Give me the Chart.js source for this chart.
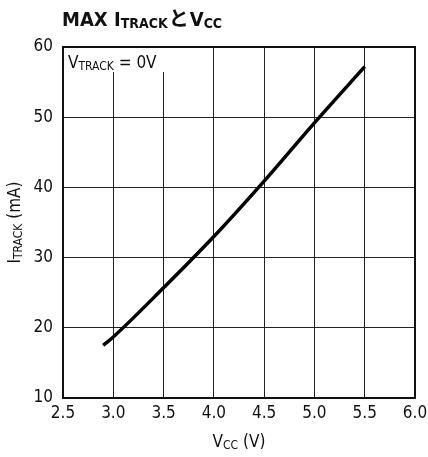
<!DOCTYPE html>
<html>
<head>
<meta charset="utf-8">
<script src="https://cdn.jsdelivr.net/npm/chart.js@4"></script>
<style>
  html, body { margin: 0; padding: 0; background: #fff; }
  #wrap { width: 428px; height: 457px; position: relative; }
</style>
</head>
<body>
<div id="wrap"><canvas id="trackChart"></canvas></div>
<script>
// supply voltage (V) and max track current (mA)
var vcc = [2.9, 3.0, 3.5, 4.0, 4.5, 5.0, 5.5];
var itrack = [17.5, 18.7, 25.7, 33.0, 40.9, 49.2, 57.2];
var xTicks = [2.5, 3.0, 3.5, 4.0, 4.5, 5.0, 5.5, 6.0];
var yTicks = [10, 20, 30, 40, 50, 60];

var FONT = '"Liberation Sans Narrow", "DejaVu Sans Condensed", "Liberation Sans", sans-serif';
var JP = '"Noto Sans CJK JP"';

// draw text runs with optional subscripts, returns end x
function richText(ctx, parts, x, y, size, weight) {
  var cx = x;
  parts.forEach(function(p) {
    var fs = p.sub ? Math.round(size * 0.72) : size;
    var fam = p.jp ? JP : FONT;
    ctx.font = (weight || '') + ' ' + fs + 'px ' + fam;
    ctx.fillText(p.t, cx, y + (p.sub ? size * 0.12 : 0));
    cx += ctx.measureText(p.t).width + (p.gap || 0);
  });
  return cx;
}
function richWidth(ctx, parts, size, weight) {
  var w = 0;
  parts.forEach(function(p) {
    var fs = p.sub ? Math.round(size * 0.72) : size;
    ctx.font = (weight || '') + ' ' + fs + 'px ' + (p.jp ? JP : FONT);
    w += ctx.measureText(p.t).width + (p.gap || 0);
  });
  return w;
}

var decor = {
  id: 'decor',
  beforeDatasetsDraw: function(chart) {
    var ctx = chart.ctx, a = chart.chartArea;
    ctx.save();
    // condition label box sits over the grid
    ctx.fillStyle = '#fff';
    ctx.fillRect(a.left + 1, a.top + 1, 104, 24);
    ctx.fillStyle = '#111';
    ctx.textBaseline = 'alphabetic';
    richText(ctx, [{t: 'V'}, {t: 'TRACK', sub: true}, {t: ' = 0V'}], a.left + 5, a.top + 21, 17);
    ctx.restore();
  },
  afterDraw: function(chart) {
    var ctx = chart.ctx, a = chart.chartArea;
    ctx.save();
    ctx.strokeStyle = '#111';
    ctx.lineWidth = 2;
    ctx.strokeRect(a.left, a.top, a.right - a.left, a.bottom - a.top);

    ctx.fillStyle = '#111';
    ctx.textBaseline = 'alphabetic';
    // title
    richText(ctx, [{t: 'MAX I'}, {t: 'TRACK', sub: true, gap: 1}, {t: 'と', jp: true, gap: 1}, {t: 'V'}, {t: 'CC', sub: true}],
      62, 26, 20, 'bold');

    // x axis title
    var xp = [{t: 'V'}, {t: 'CC', sub: true}, {t: ' (V)'}];
    var xw = richWidth(ctx, xp, 17);
    richText(ctx, xp, (a.left + a.right) / 2 - xw / 2, 447, 17);

    // y axis title, rotated
    var yp = [{t: 'I'}, {t: 'TRACK', sub: true}, {t: ' (mA)'}];
    var yw = richWidth(ctx, yp, 17);
    ctx.translate(20, (a.top + a.bottom) / 2);
    ctx.rotate(-Math.PI / 2);
    richText(ctx, yp, -yw / 2, 0, 17);
    ctx.restore();
  }
};

new Chart(document.getElementById('trackChart'), {
  type: 'line',
  data: {
    datasets: [{
      data: vcc.map(function(v, i) { return { x: v, y: itrack[i] }; }),
      borderColor: '#000',
      borderWidth: 3.5,
      pointRadius: 0,
      cubicInterpolationMode: 'monotone',
      fill: false
    }]
  },
  options: {
    responsive: true,
    maintainAspectRatio: false,
    animation: false,
    layout: { padding: { left: 0, top: 47, right: 13, bottom: 0 } },
    plugins: { legend: { display: false }, tooltip: { enabled: false } },
    scales: {
      x: {
        type: 'linear',
        min: 2.5, max: 6.0,
        afterBuildTicks: function(s) { s.ticks = xTicks.map(function(v) { return { value: v }; }); },
        afterFit: function(s) { s.height = 59; s.paddingLeft = 0; s.paddingRight = 0; },
        grid: { color: '#222', lineWidth: 1, drawTicks: false },
        border: { display: false },
        ticks: {
          padding: 5, maxRotation: 0, color: '#111',
          font: { family: FONT, size: 17 },
          callback: function(v) { return Number(v).toFixed(1); }
        }
      },
      y: {
        min: 10, max: 60,
        afterBuildTicks: function(s) { s.ticks = yTicks.map(function(v) { return { value: v }; }); },
        afterFit: function(s) { s.width = 63; s.paddingTop = 0; s.paddingBottom = 0; },
        grid: { color: '#222', lineWidth: 1, drawTicks: false },
        border: { display: false },
        ticks: {
          padding: 10, color: '#111',
          font: { family: FONT, size: 17 }
        }
      }
    }
  },
  plugins: [decor]
});
</script>
</body>
</html>
